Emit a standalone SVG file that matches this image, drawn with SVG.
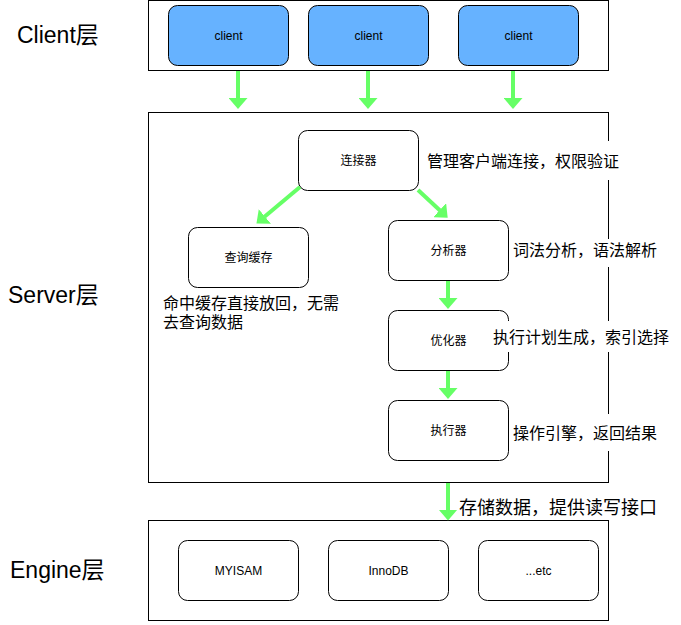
<svg xmlns="http://www.w3.org/2000/svg" width="681" height="625" viewBox="0 0 681 625">
<style>
text{font-family:'Liberation Sans','Noto Sans CJK SC',sans-serif;fill:#000}
.box{fill:#fff;stroke:#000;stroke-width:1}
.node{fill:#fff;stroke:#000;stroke-width:1}
.client{fill:#66B2FF;stroke:#000;stroke-width:1}
.nt{font-size:12px;text-anchor:middle}
.layer{font-size:23px}
.lbl{font-size:16px}
.lbg{fill:#fff;stroke:none}
.arr{stroke:#66FF66;stroke-width:4;fill:none;marker-end:url(#ah)}
</style>
<defs>
<marker id="ah" markerUnits="userSpaceOnUse" markerWidth="11" markerHeight="19" viewBox="0 0 11 19" refX="0.5" refY="9.5" orient="auto">
<path d="M0,0 L11,9.5 L0,19 Z" fill="#66FF66"/>
</marker>
</defs>
<rect width="681" height="625" fill="#fff"/>
<g id="layer-labels">
<text class="layer" x="17" y="43">Client层</text>
<text class="layer" x="8" y="303">Server层</text>
<text class="layer" x="10" y="578">Engine层</text>
</g>
<g id="client-layer"><rect class="box" x="148.5" y="0.5" width="460" height="70"/></g>
<g id="server-layer"><rect class="box" x="148.5" y="112.5" width="460" height="370"/></g>
<g id="engine-layer"><rect class="box" x="148.5" y="520.5" width="460" height="100"/></g>
<g id="client1"><rect class="client" x="168.5" y="5.5" width="120" height="60" rx="9"/><text class="nt" x="228.5" y="40">client</text></g>
<g id="client2"><rect class="client" x="308.5" y="5.5" width="120" height="60" rx="9"/><text class="nt" x="368.5" y="40">client</text></g>
<g id="client3"><rect class="client" x="458.5" y="5.5" width="120" height="60" rx="9"/><text class="nt" x="518.5" y="40">client</text></g>
<g id="connector"><rect class="node" x="298.5" y="130.5" width="120" height="60" rx="9"/><text class="nt" x="358.5" y="164.5">连接器</text></g>
<g id="cache"><rect class="node" x="188.5" y="227.5" width="120" height="60" rx="9"/><text class="nt" x="248.5" y="261.5">查询缓存</text></g>
<g id="parser"><rect class="node" x="388.5" y="220.5" width="120" height="60" rx="9"/><text class="nt" x="448.5" y="254.5">分析器</text></g>
<g id="optimizer"><rect class="node" x="388.5" y="310.5" width="120" height="60" rx="9"/><text class="nt" x="448.5" y="344.5">优化器</text></g>
<g id="executor"><rect class="node" x="388.5" y="400.5" width="120" height="60" rx="9"/><text class="nt" x="448.5" y="434.5">执行器</text></g>
<g id="myisam"><rect class="node" x="178.5" y="540.5" width="120" height="60" rx="9"/><text class="nt" x="238.5" y="574.5">MYISAM</text></g>
<g id="innodb"><rect class="node" x="328.5" y="540.5" width="120" height="60" rx="9"/><text class="nt" x="388.5" y="574.5">InnoDB</text></g>
<g id="etc"><rect class="node" x="478.5" y="540.5" width="120" height="60" rx="9"/><text class="nt" x="538.5" y="574.5">...etc</text></g>
<g id="connectors">
<line class="arr" x1="238" y1="71" x2="238" y2="98.5"/>
<line class="arr" x1="368" y1="71" x2="368" y2="98.5"/>
<line class="arr" x1="513" y1="71" x2="513" y2="98.5"/>
<line class="arr" x1="300" y1="187" x2="264.5" y2="216.8"/>
<line class="arr" x1="418" y1="190" x2="440" y2="210.5"/>
<line class="arr" x1="448" y1="281" x2="448" y2="298.5"/>
<line class="arr" x1="448" y1="371" x2="448" y2="388.5"/>
<line class="arr" x1="448" y1="483" x2="448" y2="510"/>
</g>
<g id="labels">
<rect class="lbg" x="425" y="141" width="196" height="39"/>
<text class="lbl" x="427" y="166.5">管理客户端连接，权限验证</text>
<rect class="lbg" x="511" y="239" width="148" height="28"/>
<text class="lbl" x="513" y="255.5">词法分析，语法解析</text>
<text class="lbl" x="163" y="309">命中缓存直接放回，无需</text>
<text class="lbl" x="163" y="328">去查询数据</text>
<rect class="lbg" x="491" y="321" width="179" height="31"/>
<text class="lbl" x="493" y="343">执行计划生成，索引选择</text>
<rect class="lbg" x="511" y="414" width="148" height="37"/>
<text class="lbl" x="513" y="439">操作引擎，返回结果</text>
<text x="459" y="513.5" font-size="18px">存储数据，提供读写接口</text>
</g>
</svg>
